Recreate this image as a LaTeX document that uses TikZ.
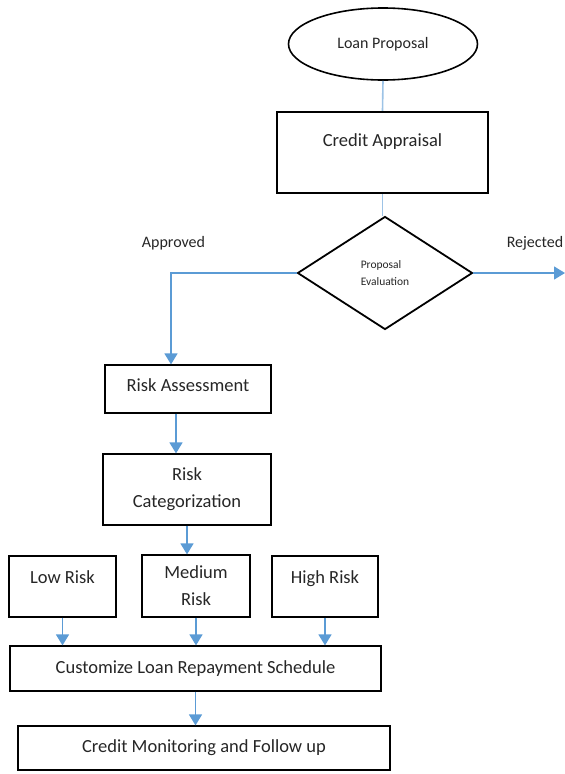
\documentclass[tikz,border=0pt]{standalone}
\usepackage{fontspec}
\setmainfont{Carlito}
\usepackage{xcolor}
\definecolor{FlowBlue}{RGB}{91, 155, 213}
\usepackage{tikz}
\usetikzlibrary{shapes.geometric, arrows.meta, positioning, calc}

\begin{document}
\begin{tikzpicture}[x=1pt, y=-1pt,
    box/.style={draw, line width=1.2pt, inner sep=0pt, text=black!85, align=center,
                font=\fontsize{18.5}{27}\selectfont},
    toptext/.style={text height=13pt, text depth=#1},
    lbl/.style={text=black!85, inner sep=0pt, font=\fontsize{16}{19}\selectfont},
    flow/.style={draw=FlowBlue, line width=1.4pt, -{Triangle[width=13pt, length=11pt]}},
    link/.style={draw=FlowBlue!60, line width=1.6pt}]
  \useasboundingbox (0,0) rectangle (565,774);

  \node[ellipse, draw, line width=1.6pt, minimum width=189pt, minimum height=72pt, lbl] (prop) at (383,44) {Loan Proposal};
  \node[box, line width=2.4pt, minimum width=211pt, minimum height=81pt, toptext=26pt] (appr) at (382.5,152.5) {Credit Appraisal};
  \node[diamond, draw, line width=1.8pt, minimum width=175pt, minimum height=113pt, inner sep=0pt,
        align=left, text=black!85, font=\fontsize{11.5}{17}\selectfont] (eval) at (385,273) {Proposal\\Evaluation};
  \node[lbl] (appv) at (173.5,243) {Approved};
  \node[lbl] (rjct) at (535,243) {Rejected};
  \coordinate (rej) at (565,273);

  \node[box, minimum width=166pt, minimum height=48pt, toptext=8pt] (assess) at (188,389) {Risk Assessment};
  \node[box, minimum width=168pt, minimum height=71pt] (categ) at (187,489.5) {Risk\\Categorization};
  \node[box, minimum width=107pt, minimum height=61pt, toptext=20pt] (low) at (62.5,586.5) {Low Risk};
  \node[box, minimum width=108pt, minimum height=62pt] (med) at (196,586) {Medium\\Risk};
  \node[box, minimum width=106pt, minimum height=61pt, toptext=20pt] (high) at (325,586.5) {High Risk};
  \node[box, minimum width=371pt, minimum height=45pt] (sched) at (195.5,668.5) {Customize Loan Repayment Schedule};
  \node[box, minimum width=372pt, minimum height=44pt] (monit) at (204,748) {Credit Monitoring and Follow up};

  \draw[link] (prop.south) -- (appr.north);
  \draw[link] (appr.south) -- (appr.south |- eval.north);
  \draw[flow] (eval.east) -- (rej);
  \draw[flow] (eval.west) -| ([xshift=-17pt]assess.north);
  \draw[flow] ([xshift=-12pt]assess.south) -- ([xshift=-11pt]categ.north);
  \draw[flow] (categ.south) -- ([xshift=-9pt]med.north);
  \foreach \n in {low,med,high} {
    \draw[flow] (\n.south) -- (\n.south |- sched.north);
  }
  \draw[flow] (sched.south) -- (sched.south |- monit.north);
\end{tikzpicture}
\end{document}
